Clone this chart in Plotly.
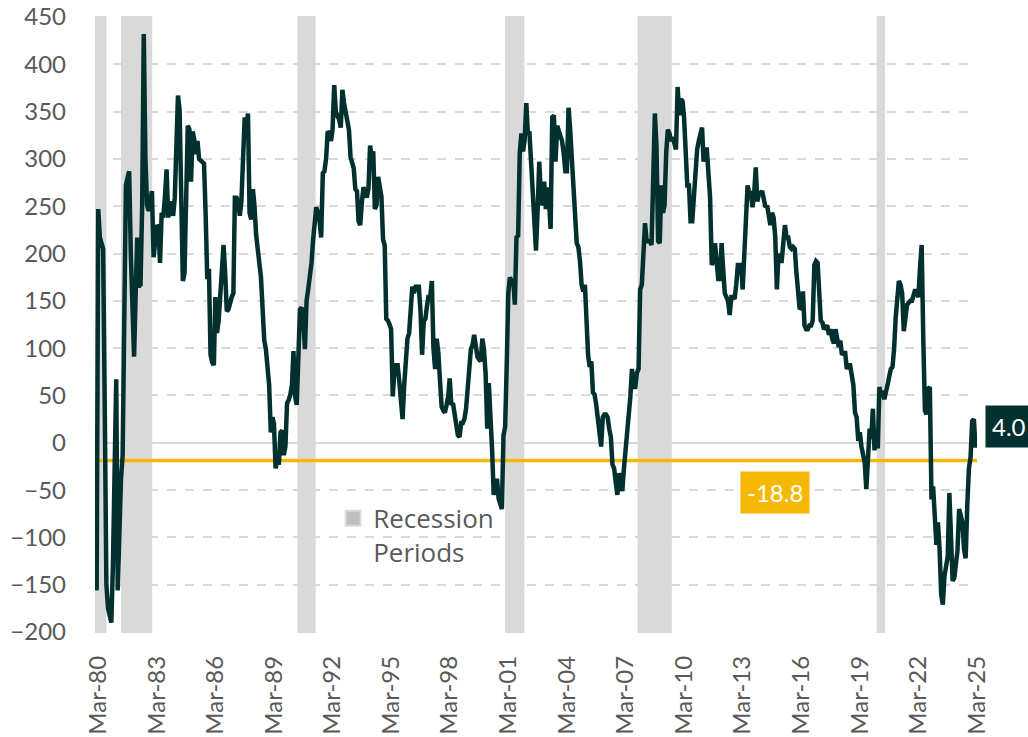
import pandas as pd
import plotly.graph_objects as go

# Monthly spread values (bp), Jan-1980 .. Mar-2025
spread = [
    -86, -156, 247, 217, 211, 205, 40, -150, -175, -184, -190, -130,   # 1980
    -30, 67, -156, -90, -38, -13, 150, 272, 280, 287, 200, 158,        # 1981
    91, 160, 217, 165, 167, 250, 432, 300, 251, 245, 255, 266,         # 1982
    196, 215, 230, 228, 190, 243, 238, 260, 289, 238, 255, 248,        # 1983
    240, 259, 300, 367, 352, 260, 171, 179, 280, 335, 331, 276,        # 1984
    329, 320, 305, 319, 300, 298, 296, 295, 240, 173, 184, 93,         # 1985
    85, 82, 154, 116, 129, 158, 185, 209, 179, 139, 141, 150,          # 1986
    154, 158, 259, 259, 255, 240, 255, 300, 344, 330, 348, 243,        # 1987
    236, 268, 251, 220, 207, 185, 175, 141, 108, 99, 80, 61,           # 1988
    11, 27, 20, -27, -19, -23, 11, 13, -13, -4, 42, 45,                # 1989
    51, 61, 97, 49, 40, 101, 141, 143, 130, 99, 150, 162,              # 1990
    175, 190, 213, 230, 249, 243, 235, 217, 285, 287, 300, 329,        # 1991
    327, 319, 331, 378, 350, 345, 342, 333, 373, 359, 350, 340,        # 1992
    331, 302, 297, 290, 268, 266, 234, 230, 255, 270, 265, 259,        # 1993
    268, 314, 302, 308, 247, 251, 281, 270, 260, 215, 209, 131,        # 1994
    129, 125, 120, 49, 75, 82, 82, 65, 45, 25, 61, 90,                 # 1995
    110, 116, 150, 165, 158, 165, 165, 165, 139, 93, 129, 131,         # 1996
    145, 156, 154, 171, 100, 78, 110, 95, 65, 38, 34, 32,              # 1997
    40, 49, 68, 40, 42, 30, 20, 8, 6, 21, 21, 25,                      # 1998
    36, 63, 82, 99, 103, 114, 103, 91, 88, 86, 110, 99,                # 1999
    74, 15, 63, 32, -6, -55, -45, -38, -59, -65, -70, 8,               # 2000
    17, 86, 158, 175, 170, 173, 146, 217, 219, 306, 327, 308,          # 2001
    320, 359, 327, 327, 300, 276, 238, 203, 247, 297, 260, 251,        # 2002
    276, 247, 270, 255, 226, 344, 346, 297, 335, 330, 327, 319,        # 2003
    306, 287, 287, 354, 331, 302, 255, 243, 211, 207, 192, 167,        # 2004
    160, 167, 129, 93, 80, 86, 53, 51, 40, 27, 11, -4,                 # 2005
    27, 30, 30, 27, 15, 6, -23, -27, -42, -55, -32, -45,               # 2006
    -51, -27, -8, 15, 21, 49, 78, 59, 59, 74, 78, 162,                 # 2007
    167, 209, 232, 213, 213, 213, 209, 276, 348, 314, 213, 211,        # 2008
    272, 243, 251, 306, 331, 327, 319, 323, 314, 310, 376, 346,        # 2009
    363, 361, 344, 300, 272, 272, 234, 234, 264, 290, 310, 319,        # 2010
    325, 333, 297, 310, 310, 290, 259, 188, 192, 211, 196, 173,        # 2011
    173, 211, 184, 158, 154, 150, 135, 154, 154, 152, 167, 188,        # 2012
    188, 188, 162, 203, 247, 272, 264, 264, 249, 262, 291, 255,        # 2013
    264, 264, 266, 259, 249, 251, 238, 230, 243, 238, 217, 162,        # 2014
    200, 192, 192, 207, 230, 217, 217, 207, 205, 207, 205, 180,        # 2015
    158, 141, 143, 160, 124, 120, 120, 124, 124, 129, 188, 192,        # 2016
    190, 162, 129, 127, 120, 122, 124, 114, 120, 110, 105, 120,        # 2017
    112, 101, 108, 93, 95, 95, 78, 82, 82, 70, 61, 32,                 # 2018
    27, 2, 11, -4, -11, -21, -49, -19, 15, 4, 36, -8,                  # 2019
    11, -6, 59, 49, 55, 46, 57, 61, 70, 78, 80, 99,                    # 2020
    133, 160, 171, 167, 158, 118, 137, 146, 148, 150, 150, 158,        # 2021
    162, 158, 154, 186, 209, 108, 34, 30, 57, 59, -60, -46,            # 2022
    -70, -108, -84, -112, -160, -171, -141, -133, -120, -53, -116, -146,  # 2023
    -143, -130, -114, -70, -78, -84, -112, -122, -65, -27, -15, 23,    # 2024
    25, -5, 4,                                                         # 2025
]
start_month = "1980-01-01"

threshold = -18.8
last_value = 4.0

recession_starts = ["1980-01-01", "1981-05-01", "1990-05-15", "2001-01-01", "2007-10-15", "2020-01-10"]
recession_ends = ["1980-08-01", "1982-12-05", "1991-04-20", "2001-12-25", "2009-07-15", "2020-06-15"]

tick_labels = ["Mar-80", "Mar-83", "Mar-86", "Mar-89", "Mar-92", "Mar-95", "Mar-98", "Mar-01",
               "Mar-04", "Mar-07", "Mar-10", "Mar-13", "Mar-16", "Mar-19", "Mar-22", "Mar-25"]
y_ticks = [-200, -150, -100, -50, 0, 50, 100, 150, 200, 250, 300, 350, 400, 450]

dates = pd.date_range(start_month, periods=len(spread), freq="MS")
tick_dates = [pd.to_datetime("01-" + t, format="%d-%b-%y") for t in tick_labels]

GREEN = "#01302e"
YELLOW = "#f5b800"
GREY_TXT = "#595959"
FONT = "Lato"

fig = go.Figure()

fig.add_trace(go.Scatter(
    x=[dates[0], dates[-1]], y=[threshold, threshold], mode="lines",
    line=dict(color=YELLOW, width=3.5), showlegend=False, hoverinfo="skip"))

fig.add_trace(go.Scatter(
    x=dates, y=spread, mode="lines",
    line=dict(color=GREEN, width=4.5), showlegend=False))

fig.add_trace(go.Scatter(
    x=[None], y=[None], mode="markers", name="Recession<br>Periods",
    marker=dict(symbol="square", size=15, color="#bfbfbf",
                line=dict(color="#dcdcdc", width=2))))

for s, e in zip(recession_starts, recession_ends):
    fig.add_shape(type="rect", xref="x", yref="paper", x0=s, x1=e, y0=0, y1=1,
                  fillcolor="#d9d9d9", line=dict(width=0), layer="between")

fig.add_annotation(x=pd.Timestamp("2014-11-01"), y=-53, text=f"{threshold:.1f}",
                   showarrow=False, bgcolor=YELLOW, borderpad=6,
                   font=dict(family=FONT, size=24, color="white"))

fig.add_annotation(x=1.009, xref="paper", xanchor="left", y=17, yref="y",
                   text=f"{last_value:.1f}", showarrow=False, bgcolor=GREEN, borderpad=6,
                   font=dict(family=FONT, size=24, color="white"))

fig.update_layout(
    width=1028, height=737,
    margin=dict(l=95, r=51, t=16, b=104),
    paper_bgcolor="white", plot_bgcolor="white",
    font=dict(family=FONT, size=24, color=GREY_TXT),
    legend=dict(x=0.27, y=0.224, xanchor="left", yanchor="top",
                bgcolor="rgba(0,0,0,0)", valign="top",
                font=dict(family="Open Sans", size=26, color=GREY_TXT)),
    showlegend=True,
)
fig.update_xaxes(
    type="date", range=[dates[0], dates[-1]], automargin=False,
    tickvals=tick_dates, ticktext=tick_labels, tickangle=-90,
    showgrid=False, zeroline=False, showline=False, ticks="",
    ticklabelstandoff=17, ticklabeloverflow="allow",
    tickfont=dict(family=FONT, size=24, color=GREY_TXT),
)
fig.update_yaxes(
    range=[-201, 451], tickvals=y_ticks, automargin=False,
    showgrid=True, gridcolor="#d9d9d9", griddash="dash", gridwidth=1.5,
    zeroline=True, zerolinecolor="#d9d9d9", zerolinewidth=1.5,
    showline=False, ticks="", ticklabelstandoff=28, ticklabeloverflow="allow",
    tickfont=dict(family=FONT, size=24, color=GREY_TXT),
)

fig.write_html("out.html", config={"displayModeBar": False},
               post_script="document.body.style.margin='0px';document.body.style.overflow='hidden';")
